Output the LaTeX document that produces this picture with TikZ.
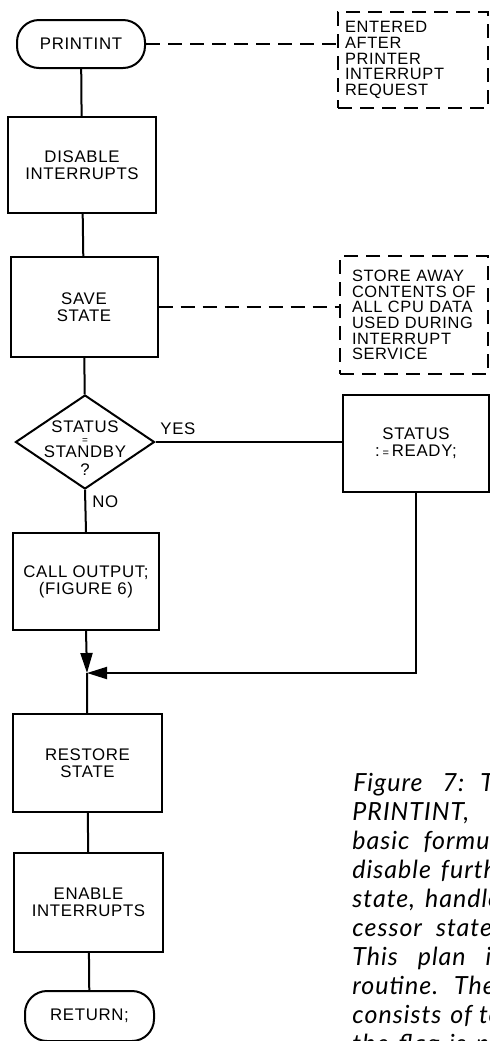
\documentclass[tikz,border=0pt]{standalone}
\usepackage{fontspec}
\newfontfamily\leroy[LetterSpace=4]{Liberation Sans}
\newfontfamily\capfont[LetterSpace=4]{Lato}
\usetikzlibrary{shapes.geometric, arrows.meta, calc}

\tikzset{
  procbox/.style={draw, line width=1pt, align=center, inner sep=0pt,
    font=\leroy\fontsize{8.4}{8.4}\selectfont},
  termbox/.style={procbox, rounded corners=11pt},
  notebox/.style={draw, line width=0.9pt, dash pattern=on 7pt off 4pt,
    align=left, inner sep=0pt, font=\leroy\fontsize{8.2}{7.85}\selectfont},
  decbox/.style={draw, diamond, line width=1pt, inner sep=0pt},
  tag/.style={inner sep=0pt, font=\leroy\fontsize{8.4}{8.4}\selectfont},
  flow/.style={line width=1pt},
  flowarrow/.style={flow, -{Triangle[length=10pt, width=6pt]}},
  notelink/.style={line width=0.9pt, dash pattern=on 7pt off 4pt},
  captionline/.style={anchor=base west, inner sep=0pt,
    font=\capfont\itshape\fontsize{12.5}{14.5}\selectfont}
}

\begin{document}
\begin{tikzpicture}[x=0.5pt, y=-0.5pt]
  \useasboundingbox (0,0) rectangle (490,1041);

  % main column
  \node[termbox, minimum width=64pt, minimum height=24pt] (start) at (81,44) {PRINTINT};
  \node[procbox, minimum width=74pt, minimum height=48pt] (dis) at (82,165) {DISABLE\\INTERRUPTS};
  \node[procbox, minimum width=73.5pt, minimum height=50pt] (save) at (84,307) {SAVE\\STATE};
  \node[decbox, minimum width=69.5pt, minimum height=47pt,
    label={[tag, align=center, yshift=-3pt]center:STATUS\\[-2.5pt]{\fontsize{5}{5}\selectfont =}\\[-1.5pt]STANDBY\\[0.5pt]?}] (test) at (85,442) {};
  \node[procbox, minimum width=73pt, minimum height=48.5pt] (ready) at (416,443.5) {STATUS\\:\,{\fontsize{5.5}{5.5}\selectfont =}\,READY;};
  \node[procbox, minimum width=73pt, minimum height=48.5pt] (call) at (86,581.5) {CALL OUTPUT;\\(FIGURE 6)};
  \coordinate (join) at (87,673);
  \node[procbox, minimum width=74.5pt, minimum height=49pt] (restore) at (87.5,763) {RESTORE\\STATE};
  \node[procbox, minimum width=74.5pt, minimum height=49.5pt] (enable) at (88.5,902.5) {ENABLE\\INTERRUPTS};
  \node[termbox, minimum width=64.5pt, minimum height=25pt] (return) at (89.5,1016) {RETURN;};

  % notes
  \node[notebox, minimum width=75pt, minimum height=48pt, text width=68pt] (note1) at (413,60)
    {ENTERED\\AFTER\\PRINTER\\INTERRUPT\\REQUEST};
  \node[notebox, minimum width=74pt, minimum height=59pt, text width=62pt] (note2) at (414,315)
    {STORE AWAY\\CONTENTS OF\\ALL CPU DATA\\USED DURING\\INTERRUPT\\SERVICE};

  % connectors
  \draw[flow] (start) -- (dis);
  \draw[notelink] (start.east) -- (start.east -| note1.west);
  \draw[flow] (dis) -- (save);
  \draw[notelink] (save.east) -- (save.east -| note2.west);
  \draw[flow] (save) -- (test);
  \draw[flow] (test.east) -- (test.east -| ready.west)
    node[tag, pos=0.12, above=3pt] (yes) {YES};
  \draw[flow] (test.south) -- (call.north)
    node[tag, pos=0.27, right=3pt] (no) {NO};
  \draw[flowarrow] (call.south) -- (join);
  \draw[flowarrow] (ready.south) |- (join);
  \draw[flow] (join) -- (restore);
  \draw[flow] (restore) -- (enable);
  \draw[flow] (enable) -- (return);

  % caption, cut off at the right edge
  \node[captionline] (cap0) at (353,791) {Figure\hspace{10pt}7:\hspace{8pt}T};
  \node[captionline] (cap1) at (352,820) {PRINTINT,};
  \node[captionline] (cap2) at (352,849) {basic\hspace{7pt}formul};
  \node[captionline] (cap3) at (352,878) {disable\hspace{5pt}furthe};
  \node[captionline] (cap4) at (352,907) {state,\hspace{5pt}handle};
  \node[captionline] (cap5) at (352,936) {cessor\hspace{7pt}state,};
  \node[captionline] (cap6) at (352,965) {This\hspace{10pt}plan\hspace{10pt}i};
  \node[captionline] (cap7) at (352,994) {routine.\hspace{8pt}The};
  \node[captionline] (cap8) at (352,1023) {consists\hspace{4.5pt}of\hspace{3.5pt}te};
  \node[captionline] (cap9) at (352,1052) {the\hspace{5pt}flag\hspace{5pt}is\hspace{5pt}ne};
\end{tikzpicture}
\end{document}
